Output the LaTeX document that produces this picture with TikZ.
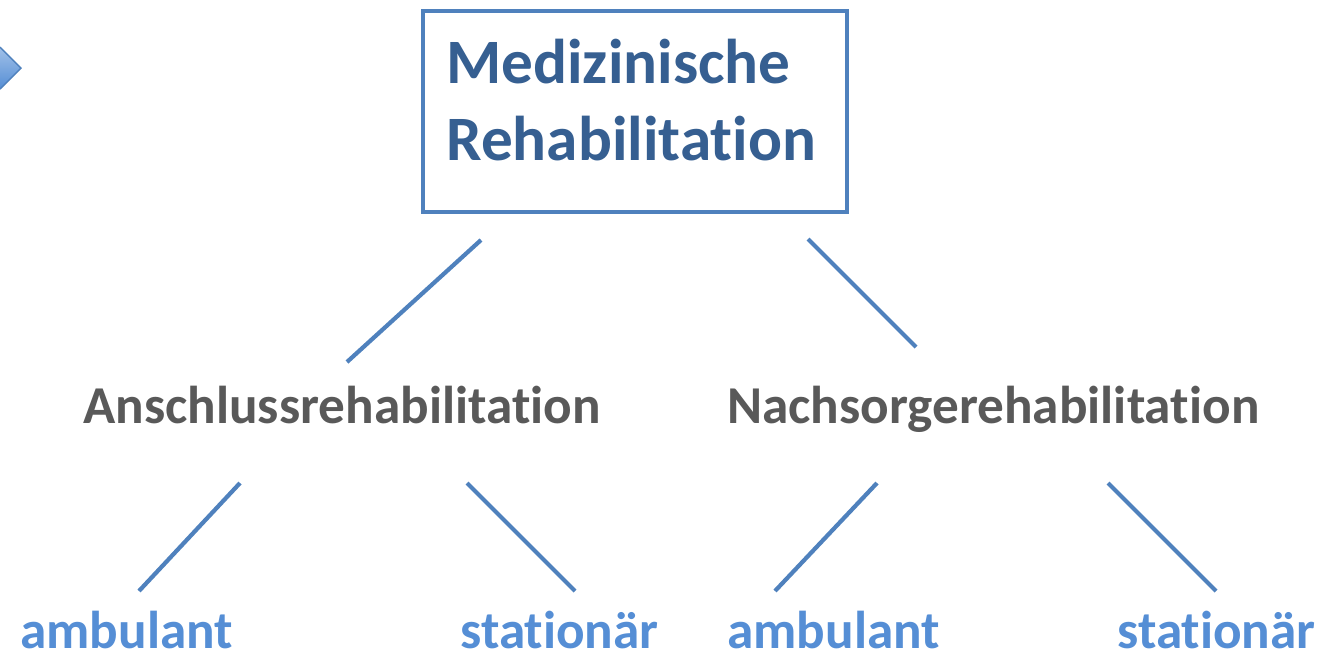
\documentclass[tikz,border=0pt]{standalone}
\usepackage{fontspec}
\setmainfont[Ligatures=NoCommon]{Carlito}
\usetikzlibrary{positioning}
\definecolor{frame}{RGB}{79,129,189}
\definecolor{navy}{RGB}{54,95,145}
\definecolor{slate}{RGB}{89,89,89}
\definecolor{sky}{RGB}{85,142,213}
\tikzset{
  link/.style={draw=frame,line width=2.4pt},
  headbox/.style={draw=frame,line width=2.3pt,minimum width=8.48cm,minimum height=4.02cm,inner sep=0pt},
  head/.style={text=navy,font=\fontsize{36}{43.6}\selectfont\bfseries,align=left,anchor=base west,inner sep=0pt},
  branch/.style={text=slate,font=\fontsize{30.3}{37}\selectfont\bfseries,anchor=base west,inner sep=0pt},
  leaf/.style={text=sky,font=\fontsize{30.3}{37}\selectfont\bfseries,anchor=base west,inner sep=0pt},
}
\begin{document}
\begin{tikzpicture}[x=0.02cm,y=-0.02cm]
    \useasboundingbox (0,0) rectangle (1321,657);
    % arrow tip cut by the left edge
    \shade[top color=sky!55,bottom color=sky] (0,47) -- (21,68) -- (0,89) -- cycle;
    \draw[frame,line width=0.8pt] (0,47) -- (21,68) -- (0,89);
    \node[headbox] (box) at (635,111.5) {};
    \node[head] (title) at (446,83) {Medizinische};
    \node[head] (title2) at (446,160) {Rehabilitation};
    \node[branch] (ahb) at (83,423) {Anschlussrehabilitation};
    \node[branch] (nhb) at (727,423) {Nachsorgerehabilitation};
    \node[leaf] (ahbamb) at (20,648) {ambulant};
    \node[leaf] (ahbsta) at (460,648) {station\"ar};
    \node[leaf] (nhbamb) at (727,648) {ambulant};
    \node[leaf] (nhbsta) at (1117,648) {station\"ar};
    % line ends
    \coordinate (boxl) at (481,240); \coordinate (ahbt) at (347,362);
    \coordinate (boxr) at (808,239); \coordinate (nhbt) at (916,347);
    \coordinate (ahbl) at (240,483); \coordinate (ambl) at (139,591);
    \coordinate (ahbr) at (467,483); \coordinate (stal) at (575,591);
    \coordinate (nhbl) at (877,483); \coordinate (ambr) at (775,591);
    \coordinate (nhbr) at (1108,483); \coordinate (star) at (1216,591);
    \draw[link] (boxl) -- (ahbt);
    \draw[link] (boxr) -- (nhbt);
    \draw[link] (ahbl) -- (ambl);
    \draw[link] (ahbr) -- (stal);
    \draw[link] (nhbl) -- (ambr);
    \draw[link] (nhbr) -- (star);
\end{tikzpicture}
\end{document}
